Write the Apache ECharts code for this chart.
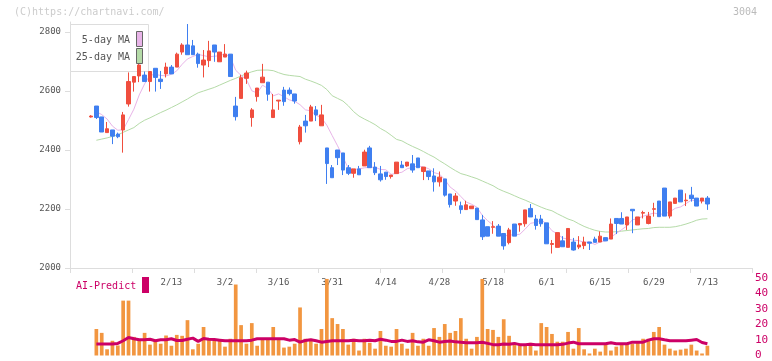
<!DOCTYPE html>
<html><head><meta charset="utf-8">
<script src="https://cdn.jsdelivr.net/npm/echarts/dist/echarts.min.js"></script>
<style>html,body{margin:0;padding:0;background:#fff}#c{width:772px;height:361px}</style>
</head><body><div id="c"></div>
<script>
const tickLabels = ['2/13','3/2','3/16','3/31','4/14','4/28','5/18','6/1','6/15','6/29','7/13'];
const tickIndex = [15,25,35,45,55,65,75,85,95,105,115];
const priceTicks = [2000, 2200, 2400, 2600, 2800];
const volTicks = [0, 10, 20, 30, 40, 50];

const open = [2512,2549,2512,2459,2468,2454,2468,2556,2630,2651,
2654,2632,2677,2640,2658,2681,2681,2732,2756,2753,
2725,2688,2703,2756,2699,2715,2725,2549,2575,2643,
2510,2581,2628,2630,2510,2566,2603,2603,2590,2428,
2498,2498,2536,2482,2407,2340,2400,2390,2340,2321,
2336,2346,2407,2342,2319,2325,2310,2320,2349,2346,
2353,2373,2327,2329,2312,2292,2302,2251,2227,2211,
2198,2201,2203,2163,2140,2138,2142,2117,2086,2149,
2146,2150,2202,2166,2166,2153,2080,2070,2092,2070,
2088,2071,2076,2088,2098,2088,2103,2098,2168,2168,
2146,2199,2146,2186,2151,2199,2227,2271,2176,2219,
2264,2228,2247,2237,2227,2237];
const close = [2515,2510,2461,2472,2447,2445,2519,2632,2649,2688,
2632,2666,2646,2632,2681,2658,2725,2756,2723,2723,
2693,2705,2736,2732,2732,2725,2649,2513,2645,2661,
2536,2610,2647,2589,2536,2569,2564,2591,2566,2478,
2482,2546,2519,2519,2354,2306,2374,2332,2321,2336,
2316,2393,2340,2323,2299,2310,2315,2359,2340,2359,
2332,2340,2342,2310,2292,2308,2247,2215,2244,2198,
2214,2210,2164,2106,2108,2140,2108,2075,2129,2108,
2151,2197,2173,2144,2150,2082,2083,2120,2072,2134,
2061,2078,2088,2084,2087,2108,2092,2149,2151,2149,
2173,2194,2173,2188,2176,2201,2174,2176,2224,2237,
2224,2230,2235,2210,2237,2217];
const high = [2518,2549,2512,2495,2468,2459,2529,2663,2649,2700,
2666,2666,2677,2668,2696,2688,2730,2762,2827,2773,
2730,2739,2770,2756,2732,2759,2725,2580,2655,2669,
2542,2610,2692,2630,2590,2569,2614,2612,2590,2485,
2519,2553,2549,2553,2407,2349,2400,2390,2349,2336,
2346,2401,2414,2359,2346,2325,2315,2359,2363,2359,
2383,2373,2342,2329,2338,2327,2302,2251,2254,2225,
2228,2210,2203,2180,2140,2159,2149,2117,2136,2149,
2151,2197,2217,2180,2180,2153,2095,2120,2108,2134,
2102,2108,2106,2088,2106,2124,2103,2168,2168,2189,
2173,2199,2173,2194,2190,2221,2227,2271,2224,2237,
2264,2253,2275,2237,2237,2244];
const low = [2510,2505,2461,2459,2420,2440,2391,2547,2598,2630,
2632,2598,2598,2607,2646,2658,2681,2723,2723,2723,
2679,2646,2681,2699,2699,2715,2649,2500,2575,2624,
2479,2564,2628,2567,2510,2536,2550,2585,2557,2419,
2459,2498,2498,2482,2285,2306,2349,2315,2315,2306,
2316,2346,2340,2315,2293,2299,2303,2320,2340,2343,
2323,2340,2298,2298,2259,2276,2242,2205,2211,2184,
2198,2201,2164,2095,2108,2116,2108,2062,2080,2108,
2123,2140,2173,2130,2140,2082,2049,2070,2072,2070,
2059,2064,2064,2061,2087,2088,2092,2098,2115,2149,
2129,2118,2146,2168,2148,2174,2174,2176,2168,2219,
2224,2210,2225,2210,2219,2197];
const volume = [null,17.1,14.6,4.0,9.5,6.5,35.4,35.4,12.0,9.5,
14.6,7.0,10.3,7.6,12.9,6.3,13.3,12.7,22.8,4.0,
7.6,18.4,10.8,9.5,9.5,5.7,10.8,45.8,19.6,7.6,
20.9,6.3,10.8,10.8,18.4,10.8,5.1,5.7,7.6,31.0,
10.8,10.1,7.6,17.1,49.4,24.1,20.3,17.1,7.0,10.8,
3.2,10.8,8.2,4.4,15.8,6.3,5.7,17.1,7.6,4.4,
14.6,6.3,10.8,6.3,17.7,12.0,20.3,14.6,15.8,24.1,
10.8,4.4,12.0,49.4,17.1,16.5,12.0,23.4,12.7,8.2,
7.6,6.3,8.2,3.2,20.9,18.4,13.9,8.9,8.9,15.2,
4.4,17.7,4.0,1.3,4.4,2.5,7.6,3.2,5.7,7.6,
7.6,7.6,8.2,10.8,10.8,15.2,18.4,7.0,4.4,3.2,
3.8,4.4,7.0,3.2,1.3,6.3];
const aiPredict = [null,7.4,7.4,7.4,7.4,7.8,9.5,11.6,10.8,10.1,
10.1,10.5,9.5,10.1,10.1,10.8,9.7,9.7,10.5,11.2,
9.1,11.0,10.5,10.3,9.9,9.5,9.5,9.5,9.5,9.5,
9.9,10.8,10.8,10.8,10.8,10.8,10.8,9.9,10.3,8.6,
9.7,10.1,9.5,8.6,9.1,9.5,9.5,9.5,9.5,9.9,
9.5,9.5,9.9,9.5,10.5,9.9,9.1,9.1,9.9,9.1,
9.5,8.8,8.6,10.1,9.5,8.6,9.1,9.3,8.8,8.6,
8.2,8.2,8.2,8.6,7.8,7.0,7.0,7.4,7.2,7.8,
7.0,7.0,7.2,7.0,7.0,7.0,7.0,7.0,7.2,8.0,
8.6,7.6,7.6,7.6,7.6,7.6,7.6,8.2,7.6,7.6,
7.6,8.6,8.6,8.6,9.9,10.8,10.8,10.1,9.5,9.5,
9.5,9.5,9.9,10.3,8.4,7.6];
const ma5Head = [null,2530,2520,2505];
const ma25 = [null,2433,2437,2441,2446,2451,2460,2468,2476,2490,
2501,2509,2518,2527,2535,2544,2553,2563,2573,2584,
2594,2600,2606,2612,2620,2628,2636,2643,2651,2659,
2665,2670,2671,2671,2669,2662,2656,2653,2651,2649,
2640,2634,2627,2619,2605,2584,2575,2566,2550,2530,
2515,2505,2496,2486,2473,2463,2450,2436,2431,2421,
2412,2404,2395,2385,2376,2364,2353,2341,2330,2320,
2315,2309,2303,2295,2287,2279,2268,2260,2253,2245,
2237,2230,2222,2214,2206,2199,2194,2184,2175,2166,
2160,2150,2141,2134,2128,2124,2122,2122,2123,2125,
2127,2129,2131,2133,2134,2137,2138,2138,2138,2140,
2144,2149,2155,2162,2166,2167];

const N = close.length;
const categories = close.map((_, i) => { const p = tickIndex.indexOf(i); return p >= 0 ? tickLabels[p] : ''; });
const ma5 = close.map((_, i) => {
  if (i < ma5Head.length) return ma5Head[i];
  let s = 0; for (let j = i - 4; j <= i; j++) s += close[j];
  return Math.round(s / 5 * 10) / 10;
});
const candles = close.map((c, i) => [open[i], c, low[i], high[i]]);

const RED = '#f04e3e', BLUE = '#3f7ff0', MAG = '#cc0066';
const FONT = 'DejaVu Sans Mono';
const plotL = 70, plotR = 752, plotTop = 22, plotBot = 268;
const step = 5.36, firstX = 91;
const dataL = firstX - step / 2, dataW = step * N;
const yMin = 2000, yMax = 2000 + (plotBot - plotTop) / 0.295;

const chart = echarts.init(document.getElementById('c'), null, {renderer: 'canvas'});
chart.setOption({
  animation: false,
  backgroundColor: '#fff',
  grid: [
    {left: plotL, top: plotTop, width: plotR - plotL, height: plotBot - plotTop},
    {left: dataL, top: plotTop, width: dataW, height: plotBot - plotTop},
    {left: dataL, top: 278, width: dataW, height: 79}
  ],
  xAxis: [
    {gridIndex: 0, type: 'value', min: 0, max: plotR - plotL, interval: 62,
     axisLine: {show: true, lineStyle: {color: '#dddddd', width: 1}},
     axisTick: {show: true, length: 5, lineStyle: {color: '#dddddd'}},
     axisLabel: {show: false}, splitLine: {show: false}},
    {gridIndex: 1, type: 'category', data: categories, boundaryGap: true,
     axisLine: {show: false}, axisTick: {show: false}, splitLine: {show: false},
     axisLabel: {show: true, interval: (idx) => tickIndex.indexOf(idx) >= 0, margin: 10,
       color: '#555', fontFamily: FONT, fontSize: 9}},
    {gridIndex: 2, type: 'category', data: categories, boundaryGap: true,
     axisLine: {show: false}, axisTick: {show: false}, axisLabel: {show: false}, splitLine: {show: false}}
  ],
  yAxis: [
    {gridIndex: 0, type: 'value', min: yMin, max: yMax, interval: 200,
     axisLine: {show: true, lineStyle: {color: '#dddddd'}},
     axisTick: {show: true, length: 5, customValues: priceTicks, lineStyle: {color: '#dddddd'}},
     axisLabel: {show: true, margin: 9, color: '#555', fontFamily: FONT, fontSize: 9,
       customValues: priceTicks,
       formatter: (v) => priceTicks.indexOf(v) >= 0 ? String(v) : ''},
     splitLine: {show: false}},
    {gridIndex: 1, type: 'value', min: yMin, max: yMax, show: false},
    {gridIndex: 2, type: 'value', min: 0, max: 50, interval: 10, position: 'right',
     offset: plotR - (dataL + dataW),
     axisLine: {show: false}, axisTick: {show: false}, splitLine: {show: false},
     axisLabel: {show: true, margin: 3, color: MAG, fontFamily: FONT, fontSize: 11,
       formatter: (v) => volTicks.indexOf(v) >= 0 ? String(v) : ''}}
  ],
  series: [
    {type: 'line', name: '25-day MA', xAxisIndex: 1, yAxisIndex: 1, data: ma25,
     showSymbol: false, lineStyle: {color: '#b5dba8', width: 1}, z: 3, silent: true},
    {type: 'line', name: '5-day MA', xAxisIndex: 1, yAxisIndex: 1, data: ma5,
     showSymbol: false, lineStyle: {color: '#e8b4e8', width: 1}, z: 3, silent: true},
    {type: 'candlestick', xAxisIndex: 1, yAxisIndex: 1, data: candles, barWidth: 4, z: 5,
     itemStyle: {color: RED, color0: BLUE, borderColor: RED, borderColor0: BLUE, borderWidth: 1}},
    {type: 'bar', xAxisIndex: 2, yAxisIndex: 2, data: volume, barWidth: 3.7,
     itemStyle: {color: '#f29640'}, z: 2},
    {type: 'line', name: 'AI-Predict', xAxisIndex: 2, yAxisIndex: 2, data: aiPredict,
     showSymbol: false, lineStyle: {color: MAG, width: 3}, z: 4}
  ],
  graphic: [
    {type: 'text', left: 14, top: 7, z: 10, style: {text: '(C)https://chartnavi.com/', fill: '#cccccc', font: '10px "DejaVu Sans Mono"'}},
    {type: 'text', left: 733, top: 7, z: 10, style: {text: '3004', fill: '#bbbbbb', font: '10px "DejaVu Sans Mono"'}},
    {type: 'rect', z: 1, shape: {x: 70.5, y: 24.5, width: 78, height: 47}, style: {fill: '#fff', stroke: '#dddddd', lineWidth: 1}},
    {type: 'text', z: 10, x: 130, y: 40, style: {text: '5-day MA', fill: '#555', font: '10px "DejaVu Sans Mono"', textAlign: 'right', textVerticalAlign: 'middle'}},
    {type: 'text', z: 10, x: 130, y: 57, style: {text: '25-day MA', fill: '#555', font: '10px "DejaVu Sans Mono"', textAlign: 'right', textVerticalAlign: 'middle'}},
    {type: 'rect', z: 10, shape: {x: 136.5, y: 31.5, width: 6, height: 15}, style: {fill: '#e8b4e8', stroke: '#666', lineWidth: 1}},
    {type: 'rect', z: 10, shape: {x: 136.5, y: 48.5, width: 6, height: 15}, style: {fill: '#b5dba8', stroke: '#666', lineWidth: 1}},
    {type: 'text', z: 10, x: 76, y: 286, style: {text: 'AI-Predict', fill: MAG, font: '10px "DejaVu Sans Mono"', textVerticalAlign: 'middle'}},
    {type: 'rect', z: 10, shape: {x: 142, y: 277, width: 7, height: 16}, style: {fill: MAG}}
  ]
});
</script></body></html>
